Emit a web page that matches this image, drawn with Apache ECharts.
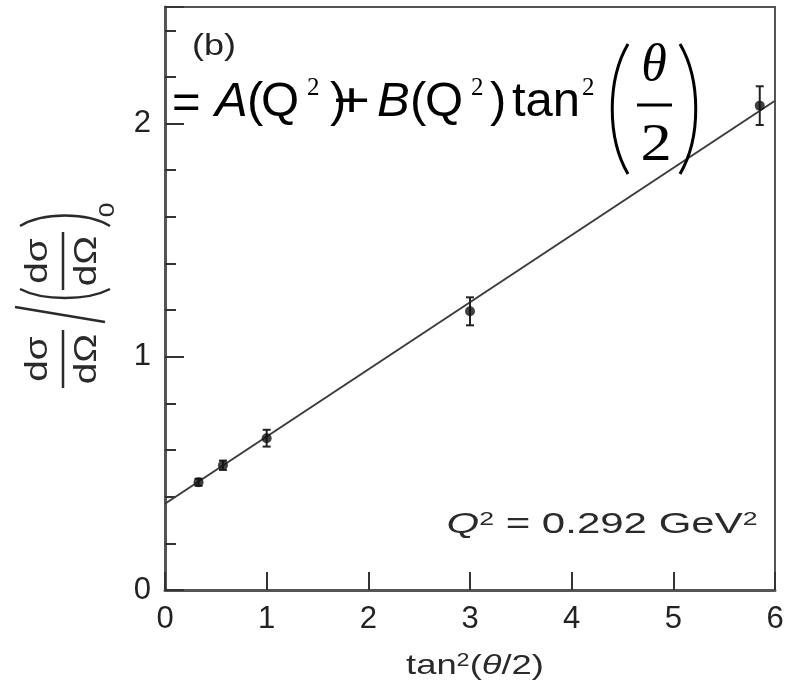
<!DOCTYPE html>
<html><head><meta charset="utf-8">
<script src="https://cdn.jsdelivr.net/npm/echarts@6/dist/echarts.min.js"></script>
<style>html,body{margin:0;padding:0;background:#fff}#c{width:800px;height:690px}</style>
</head><body><div id="c"></div>
<script>
// ---- data ----
const xVals = [0.33, 0.57, 1.0, 3.0, 5.85];
const yVals = [0.462, 0.535, 0.651, 1.195, 2.077];
const yErr  = [0.015, 0.02, 0.036, 0.06, 0.083];
const fitX  = [0, 6];
const fitY  = [0.37, 2.098];
const xTickValues = [0, 1, 2, 3, 4, 5, 6];
const yTickLabels = ['0', '1', '2'];
const panelLabel = '(b)';

const SANS = '"Liberation Sans", Arial, sans-serif';
const SERIF = '"Liberation Serif", "Times New Roman", serif';

const chart = echarts.init(document.getElementById('c'), null, {renderer: 'canvas'});

function txt(t, x, y, fs, opts) {
  opts = opts || {};
  return {
    type: 'text', x: x, y: y,
    scaleX: opts.sx || 1, scaleY: opts.sy || 1,
    style: {
      text: t, fontSize: fs, fontFamily: opts.fam || SANS,
      fontStyle: opts.it ? 'italic' : 'normal',
      fill: opts.fill || '#000',
      align: opts.align || 'left', verticalAlign: 'middle',
      rich: opts.rich
    },
    z: 10
  };
}

// equation pieces (annotation text, not data)
const EQ_Y = 102;
const eq = [
  txt('=', 172, EQ_Y + 2, 49),
  txt('A', 215, EQ_Y, 49, {it: true}),
  txt('(', 247, EQ_Y, 49),
  txt('Q', 261, EQ_Y, 49),
  txt('2', 307, 88, 25, {fam: SERIF}),
  txt(')', 330, EQ_Y, 49),
  txt('+', 333, EQ_Y, 49, {sx: 1.3}),
  txt('B', 377, EQ_Y, 49, {it: true}),
  txt('(', 410, EQ_Y, 49),
  txt('Q', 425, EQ_Y, 49),
  txt('2', 471, 88, 25, {fam: SERIF}),
  txt(')', 490, EQ_Y, 49),
  txt('tan', 512, EQ_Y, 49),
  txt('2', 582, 88, 25, {fam: SERIF}),
  txt('θ', 654, 66, 52, {fam: SERIF, it: true, align: 'center'}),
  txt('2', 656, 146, 52, {fam: SERIF, align: 'center', sx: 1.2}),
  {type: 'line', shape: {x1: 637, y1: 105, x2: 672, y2: 105}, style: {stroke: '#000', lineWidth: 3}, z: 10},
  {type: 'bezierCurve', shape: {x1: 628, y1: 44, cpx1: 607, cpy1: 80, cpx2: 607, cpy2: 138, x2: 628, y2: 174}, style: {stroke: '#000', lineWidth: 3, fill: null}, z: 10},
  {type: 'bezierCurve', shape: {x1: 680, y1: 44, cpx1: 701, cpy1: 80, cpx2: 701, cpy2: 138, x2: 680, y2: 174}, style: {stroke: '#000', lineWidth: 3, fill: null}, z: 10}
];

// y-axis name: rotated fraction group
const LBL = '#2a2a2a';
const yName = {
  type: 'group', x: 63, y: 298, rotation: Math.PI / 2, z: 10,
  children: [
    txt('dσ', -61, -25, 31, {align: 'center', sx: 1.25, fill: LBL}),
    txt('dΩ', -61, 24, 31, {align: 'center', sx: 1.25, fill: LBL}),
    {type: 'line', shape: {x1: -90, y1: 0, x2: -32, y2: 0}, style: {stroke: LBL, lineWidth: 2.5}},
    {type: 'line', shape: {x1: -9, y1: -48, x2: -24, y2: 42}, style: {stroke: LBL, lineWidth: 2.5}},
    {type: 'bezierCurve', shape: {x1: 9, y1: -43, cpx1: -3, cpy1: -20, cpx2: -3, cpy2: 24, x2: 9, y2: 47}, style: {stroke: LBL, lineWidth: 2.5, fill: null}},
    txt('dσ', 37, -25, 31, {align: 'center', sx: 1.25, fill: LBL}),
    txt('dΩ', 37, 24, 31, {align: 'center', sx: 1.25, fill: LBL}),
    {type: 'line', shape: {x1: 8, y1: 0, x2: 66, y2: 0}, style: {stroke: LBL, lineWidth: 2.5}},
    {type: 'bezierCurve', shape: {x1: 72, y1: -43, cpx1: 86, cpy1: -20, cpx2: 86, cpy2: 24, x2: 72, y2: 47}, style: {stroke: LBL, lineWidth: 2.5, fill: null}},
    txt('0', 88, 45, 22, {align: 'center', sx: 1.2, fill: LBL})
  ]
};

const xName = txt('{a|tan}{s|2}{a|(}{i|θ}{a|/2)}', 475, 666, 28, {
  align: 'center', sx: 1.3, fill: '#2a2a2a',
  rich: {
    a: {fontSize: 28, fontFamily: SANS, fill: '#2a2a2a'},
    s: {fontSize: 18, fontFamily: SANS, fill: '#2a2a2a', verticalAlign: 'top', lineHeight: 28},
    i: {fontSize: 28, fontFamily: SANS, fontStyle: 'italic', fill: '#2a2a2a'}
  }
});

const qAnn = txt('{i|Q}{s|2}{a| = 0.292 GeV}{s|2}', 602, 525, 30, {
  align: 'center', sx: 1.4, fill: '#2a2a2a',
  rich: {
    a: {fontSize: 30, fontFamily: SANS, fill: '#2a2a2a'},
    s: {fontSize: 19, fontFamily: SANS, fill: '#2a2a2a', verticalAlign: 'top', lineHeight: 30},
    i: {fontSize: 30, fontFamily: SANS, fontStyle: 'italic', fill: '#2a2a2a'}
  }
});

const bLabel = txt(panelLabel, 214, 47, 30, {align: 'center', sx: 1.2, fill: '#222'});

const axisLineStyle = {color: '#555', width: 3};
const labelStyle = {fontSize: 31, color: '#222', fontFamily: SANS};

const option = {
  animation: false,
  backgroundColor: '#fff',
  grid: {left: 165, right: 25, top: 7, bottom: 100, show: true, borderColor: '#555', borderWidth: 2, backgroundColor: 'transparent'},
  xAxis: {
    type: 'value', min: xTickValues[0], max: xTickValues[xTickValues.length - 1], interval: 1,
    axisLine: {show: true, lineStyle: axisLineStyle},
    axisTick: {show: true, inside: true, length: 18, lineStyle: {color: '#333', width: 2}},
    axisLabel: Object.assign({margin: 14}, labelStyle),
    splitLine: {show: false}
  },
  yAxis: [
    {
      type: 'value', min: 0, max: 2.5, interval: 0.2,
      axisLine: {show: true, lineStyle: axisLineStyle},
      axisTick: {show: true, inside: true, length: 11, lineStyle: {color: '#333', width: 2}},
      axisLabel: Object.assign({margin: 14, showMaxLabel: false, formatter: function (v) {
        const r = Math.round(v);
        return Math.abs(v - r) < 1e-6 && yTickLabels.indexOf(String(r)) >= 0 ? String(r) : '';
      }}, labelStyle),
      splitLine: {show: false}
    },
    {
      type: 'value', min: 0, max: 2.5, interval: 1, position: 'left',
      axisLine: {show: false},
      axisTick: {show: true, inside: true, length: 19, lineStyle: {color: '#333', width: 2}},
      axisLabel: {show: false},
      splitLine: {show: false}
    }
  ],
  series: [
    {
      type: 'line', data: fitX.map((x, i) => [x, fitY[i]]), showSymbol: false,
      lineStyle: {color: '#3c3c3c', width: 2}, z: 2
    },
    {
      type: 'custom', data: xVals.map((x, i) => [x, yVals[i], yErr[i]]),
      encode: {x: 0, y: 1},
      renderItem: function (params, api) {
        const x = api.value(0), y = api.value(1), e = api.value(2);
        const p1 = api.coord([x, y + e]), p2 = api.coord([x, y - e]);
        const w = 4, st = {stroke: '#222', lineWidth: 2};
        return {type: 'group', children: [
          {type: 'line', shape: {x1: p1[0], y1: p1[1], x2: p2[0], y2: p2[1]}, style: st},
          {type: 'line', shape: {x1: p1[0] - w, y1: p1[1], x2: p1[0] + w, y2: p1[1]}, style: st},
          {type: 'line', shape: {x1: p2[0] - w, y1: p2[1], x2: p2[0] + w, y2: p2[1]}, style: st}
        ]};
      },
      z: 3
    },
    {
      type: 'scatter', data: xVals.map((x, i) => [x, yVals[i]]),
      symbol: 'circle', symbolSize: 10, itemStyle: {color: '#111'}, z: 4
    }
  ],
  graphic: [bLabel, yName, xName, qAnn].concat(eq)
};
chart.setOption(option);
</script>
</body></html>
